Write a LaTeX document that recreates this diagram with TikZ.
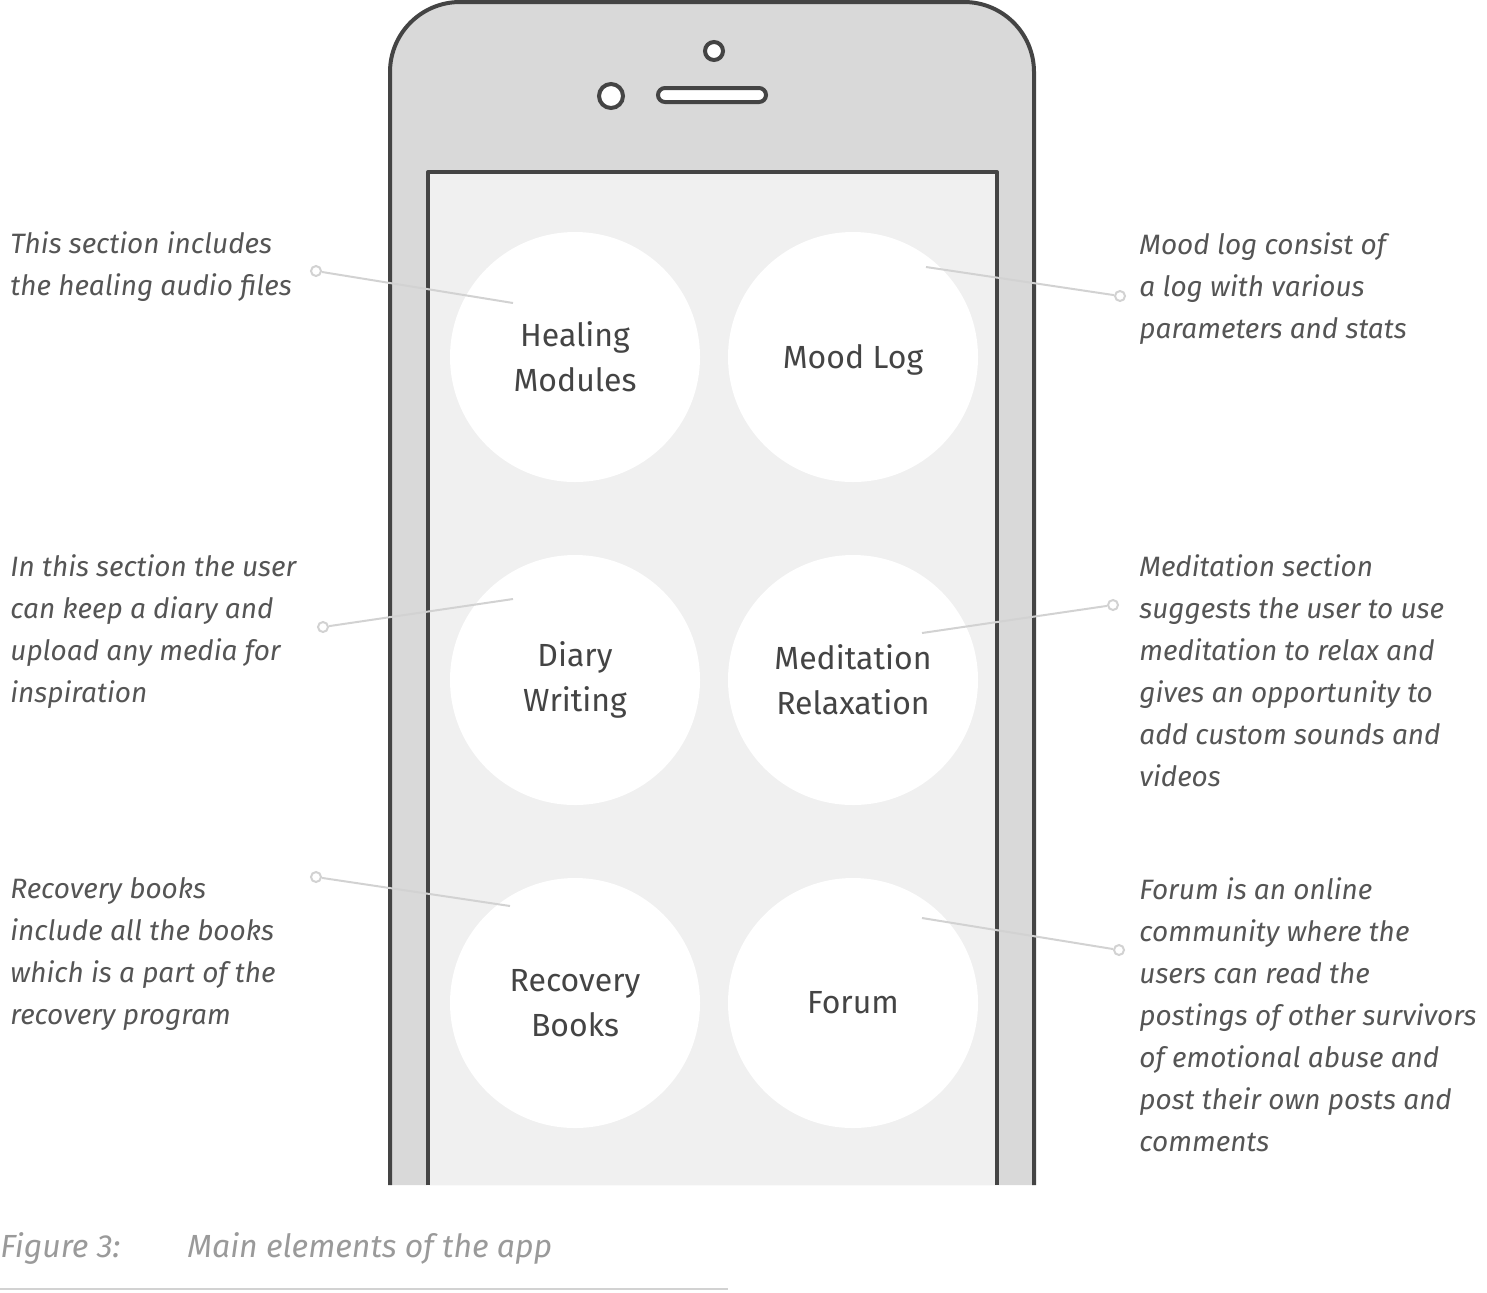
\documentclass[tikz,border=0pt]{standalone}
\usepackage{fontspec}
\setmainfont{Fira Sans}
\usetikzlibrary{positioning}
\definecolor{framegray}{HTML}{444444}
\definecolor{bodygray}{HTML}{D9D9D9}
\definecolor{screengray}{HTML}{F0F0F0}
\definecolor{leadgray}{HTML}{D2D2D2}
\definecolor{notegray}{HTML}{555555}
\definecolor{capgray}{HTML}{9A9A9A}
\tikzset{
     phone frame/.style = {draw=framegray, line width=2pt, line join=round},
      sensor/.style     = {draw=framegray, line width=2pt, fill=white, inner sep=0pt},
      menu button/.style = {circle, fill=white, minimum size=125pt, inner sep=0pt,
                            align=center, text=framegray, font=\fontsize{16}{22.5}\selectfont},
      note/.style = {anchor=north west, inner sep=0pt, align=left, text=notegray,
                     font=\fontsize{14}{21}\selectfont\itshape},
      leader/.style = {draw=leadgray, line width=1pt},
      leader dot/.style = {circle, draw=leadgray, line width=1pt, fill=white,
                           minimum size=5pt, inner sep=0pt},
      caption/.style = {anchor=base west, inner sep=0pt, text=capgray,
                        font=\fontsize{16}{20}\selectfont\itshape},
    }

\begin{document}
\begin{tikzpicture}[x=0.5pt, y=-0.5pt, node distance=161.5pt and 139pt, on grid]
        \useasboundingbox (0,0) rectangle (1487,1292);

        % phone body, open at the bottom
        \fill[bodygray] (390,1185) -- (390,72) arc[start angle=180, end angle=270, radius=70]
            -- (964,2) arc[start angle=270, end angle=360, radius=70] -- (1034,1185) -- cycle;
        \draw[phone frame] (390,1185) -- (390,72) arc[start angle=180, end angle=270, radius=70]
            -- (964,2) arc[start angle=270, end angle=360, radius=70] -- (1034,1185);
        \fill[screengray] (428,172) rectangle (997,1185);
        \draw[phone frame] (428,1185) -- (428,172) -- (997,172) -- (997,1185);

        \node [sensor, circle, minimum size=9pt]  (camera)  at (714,51) {};
        \node [sensor, circle, minimum size=12pt] (sensorl) at (611,96) {};
        \node [sensor, rectangle, rounded corners=3.5pt, minimum width=54pt,
               minimum height=7pt] (speaker) at (712,95) {};

        % menu
        \node [menu button] (heal)                  at (575,357) {Healing\\Modules};
        \node [menu button, text depth=1pt] (mood)  [right=of heal]  {Mood Log};
        \node [menu button] (diary) [below=of heal]  {Diary\\Writing};
        \node [menu button] (medit) [right=of diary] {Meditation\\Relaxation};
        \node [menu button] (books) [below=of diary] {Recovery\\Books};
        \node [menu button, text depth=1pt] (forum) [right=of books] {Forum};

        % notes
        \node [note] (healnote)  at (10,231)   {This section includes\\the healing audio files};
        \node [note] (diarynote) at (10,554)   {In this section the user\\can keep a diary and\\upload any media for\\inspiration};
        \node [note] (booksnote) at (10,877)   {Recovery books\\include all the books\\which is a part of the\\recovery program};
        \node [note] (moodnote)  at (1139,232) {Mood log consist of\\a log with various\\parameters and stats};
        \node [note] (meditnote) at (1139,554) {Meditation section\\suggests the user to use\\meditation to relax and\\gives an opportunity to\\add custom sounds and\\videos};
        \node [note] (forumnote) at (1139,877) {Forum is an online\\community where the\\users can read the\\postings of other survivors\\of emotional abuse and\\post their own posts and\\comments};

        % leaders
        \node [leader dot] (healdot)  at (316,271)  {};
        \node [leader dot] (diarydot) at (323,627)  {};
        \node [leader dot] (booksdot) at (316,877)  {};
        \node [leader dot] (mooddot)  at (1120,296) {};
        \node [leader dot] (meditdot) at (1113,605) {};
        \node [leader dot] (forumdot) at (1119,950) {};
        \coordinate (healtip)  at (513,303);
        \coordinate (diarytip) at (513,599);
        \coordinate (bookstip) at (510,906);
        \coordinate (moodtip)  at (926,267);
        \coordinate (medittip) at (922,633);
        \coordinate (forumtip) at (922,918);

        \path[leader]
        (healdot)  -- (healtip)
        (diarydot) -- (diarytip)
        (booksdot) -- (bookstip)
        (mooddot)  -- (moodtip)
        (meditdot) -- (medittip)
        (forumdot) -- (forumtip);

        % caption
        \node [caption] (figlabel) at (0,1257)   {Figure 3:};
        \node [caption] (figtitle) at (187,1257) {Main elements of the app};
        \draw [leadgray, line width=1pt] (0,1289) -- (728,1289);
    \end{tikzpicture}
\end{document}
